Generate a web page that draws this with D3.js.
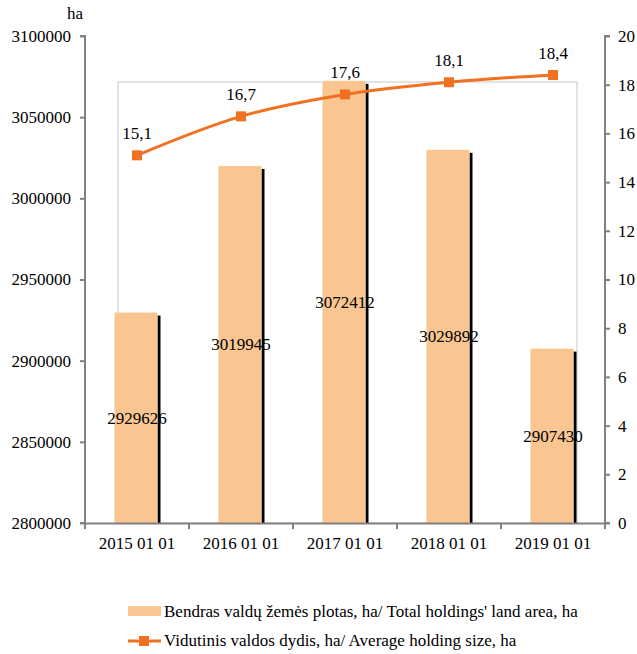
<!DOCTYPE html>
<html><head><meta charset="utf-8">
<script src="https://cdn.jsdelivr.net/npm/d3@7/dist/d3.min.js"></script>
<style>body{margin:0;background:#fff} svg, svg text{font-family:'Liberation Serif','DejaVu Serif','Times New Roman',serif !important;}</style>
</head><body><svg id="c" width="637" height="654" font-family="Liberation Serif, serif"></svg>
<script>
const categories = ["2015 01 01","2016 01 01","2017 01 01","2018 01 01","2019 01 01"];
const areaValues = [2929626,3019945,3072412,3029892,2907430];
const avgSize = [15.1,16.7,17.6,18.1,18.4];
const leftTicks = [2800000,2850000,2900000,2950000,3000000,3050000,3100000];
const rightTicks = [0,2,4,6,8,10,12,14,16,18,20];
const legendLabels = ["Bendras valdų žemės plotas, ha/ Total holdings' land area, ha","Vidutinis valdos dydis, ha/ Average holding size, ha"];

const FS = "17px";
const svg = d3.select("#c");
const L=85, R=605, T=36, B=523;
const x = d3.scaleBand().domain(categories).range([L,R]);
const yL = d3.scaleLinear().domain([2800000,3100000]).range([B,T]);
const yR = d3.scaleLinear().domain([0,20]).range([B,T]);
const barColor="#f9c590", lineColor="#f07122", axisColor="#808080";

svg.append("rect").attr("x",118).attr("y",82).attr("width",459).attr("height",B-82)
  .attr("fill","none").attr("stroke","#c8c8c8").attr("stroke-width",1);

const bw = 43;
const g = svg.append("g");
categories.forEach((c,i)=>{
  const cx = x(c)+x.bandwidth()/2;
  const x0 = cx - bw/2 - 1;
  const yt = yL(areaValues[i]);
  g.append("rect").attr("x",x0+bw).attr("y",yt+3).attr("width",3).attr("height",B-yt-3).attr("fill","#000");
  g.append("rect").attr("x",x0).attr("y",yt).attr("width",bw).attr("height",B-yt).attr("fill",barColor);
  g.append("text").attr("x",cx).attr("y",(yt+B)/2+6).attr("text-anchor","middle")
    .style("font-size",FS).text(areaValues[i]);
});

const axL = svg.append("g").attr("transform",`translate(${L},0)`)
  .call(d3.axisLeft(yL).tickValues(leftTicks).tickSize(5).tickPadding(9).tickFormat(d=>d));
const axR = svg.append("g").attr("transform",`translate(${R},0)`)
  .call(d3.axisRight(yR).tickValues(rightTicks).tickSize(5).tickPadding(8).tickFormat(d=>d));
const axB = svg.append("g").attr("transform",`translate(0,${B})`)
  .call(d3.axisBottom(x).tickSize(0).tickPadding(14));
[axL,axR,axB].forEach(a=>{
  a.attr("font-family",null);
  a.select(".domain").attr("stroke",axisColor).attr("stroke-width",2);
  a.selectAll(".tick line").attr("stroke",axisColor).attr("stroke-width",2);
  a.selectAll("text").style("font-size",FS).attr("fill","#000");
});
axL.select(".domain").attr("d",`M-5,${T}H0V${B}H-5`);
axR.select(".domain").attr("d",`M5,${T}H0V${B}H5`);
const bounds = d3.range(categories.length+1).map(i=>L+i*x.step());
svg.append("g").selectAll("line").data(bounds).join("line")
  .attr("x1",d=>d).attr("x2",d=>d).attr("y1",B).attr("y2",B+6)
  .attr("stroke",axisColor).attr("stroke-width",2);

svg.append("text").attr("x",75).attr("y",19).attr("text-anchor","middle").style("font-size",FS).text("ha");

const pts = categories.map((c,i)=>[x(c)+x.bandwidth()/2, yR(avgSize[i])]);
svg.append("path").attr("d",d3.line().curve(d3.curveCatmullRom.alpha(0.5))(pts))
  .attr("fill","none").attr("stroke",lineColor).attr("stroke-width",3);
svg.append("g").selectAll("rect").data(pts).join("rect")
  .attr("x",d=>d[0]-5).attr("y",d=>d[1]-5).attr("width",10).attr("height",10).attr("fill",lineColor);
svg.append("g").selectAll("text").data(pts).join("text")
  .attr("x",d=>d[0]).attr("y",d=>d[1]-16).attr("text-anchor","middle").style("font-size",FS)
  .text((d,i)=>String(avgSize[i]).replace(".",","));

const lg = svg.append("g");
lg.append("rect").attr("x",128).attr("y",606).attr("width",33).attr("height",10).attr("fill",barColor);
lg.append("text").attr("x",164).attr("y",617).style("font-size",FS).text(legendLabels[0]);
lg.append("line").attr("x1",128).attr("x2",161).attr("y1",641).attr("y2",641).attr("stroke",lineColor).attr("stroke-width",3);
lg.append("rect").attr("x",139).attr("y",636).attr("width",10).attr("height",10).attr("fill",lineColor);
lg.append("text").attr("x",164).attr("y",646).style("font-size",FS).text(legendLabels[1]);
</script></body></html>
